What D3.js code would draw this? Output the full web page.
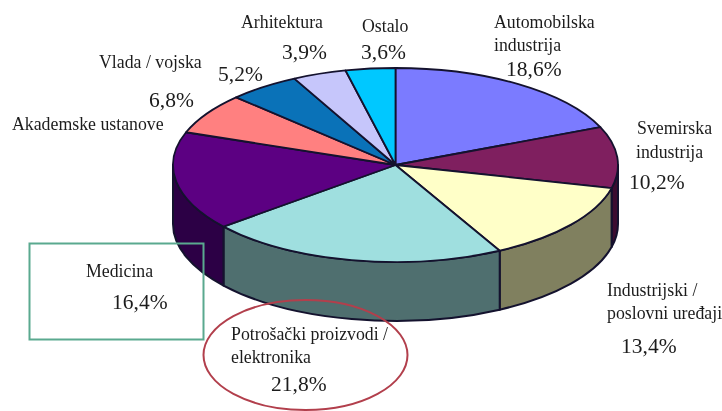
<!DOCTYPE html>
<html>
<head>
<meta charset="utf-8">
<script src="https://cdn.jsdelivr.net/npm/d3@7"></script>
<style>
    html, body { margin: 0; padding: 0; background: #fff; }
    svg { display: block; filter: blur(0.45px); }
    text { font-family: "Liberation Serif", serif; fill: #1c1c1c; }
</style>
</head>
<body>
<div id="chart"></div>
<script>
// clockwise from 12 o'clock
const categories = [
    "Automobilska industrija", "Svemirska industrija", "Industrijski / poslovni uređaji",
    "Potrošački proizvodi / elektronika", "Medicina", "Akademske ustanove",
    "Vlada / vojska", "Arhitektura", "Ostalo"
];
const shares = [18.6, 10.2, 13.4, 21.8, 16.4, 6.8, 5.2, 3.9, 3.6];
const topColors = ["#7b7bff", "#7f1f5f", "#ffffc8", "#9fdfdf", "#5c0082", "#ff8080", "#0a72b8", "#c6c6fb", "#00c8ff"];
const wallColors = ["#3d3d80", "#3c0c30", "#80805f", "#4f6f6f", "#2c0045", "#804040", "#053a5c", "#63637e", "#006480"];

const width = 722, height = 411;
const cx = 395.5, cy = 165, rx = 222.5, ry = 97, depth = 59;
const edge = "#14122e";

const svg = d3.select("#chart").append("svg")
    .attr("width", width)
    .attr("height", height);

const slices = d3.pie().sort(null).value(d => d)(shares)
    .map((s, i) => ({...s, name: categories[i], index: i}));

// position on the rim for a pie angle (0 = top, clockwise)
const rimX = a => cx + rx * Math.sin(a);
const rimY = a => cy - ry * Math.cos(a);

// walls first, only the front half of the cylinder can be seen
const front = [Math.PI / 2, Math.PI * 1.5];
slices.forEach(s => {
    const a0 = Math.max(s.startAngle, front[0]);
    const a1 = Math.min(s.endAngle, front[1]);
    if (a0 >= a1) return;
    svg.append("path")
        .attr("d", `M${rimX(a0)},${rimY(a0)}`
            + `A${rx},${ry} 0 0 1 ${rimX(a1)},${rimY(a1)}`
            + `L${rimX(a1)},${rimY(a1) + depth}`
            + `A${rx},${ry} 0 0 0 ${rimX(a0)},${rimY(a0) + depth}Z`)
        .attr("fill", wallColors[s.index])
        .attr("stroke", edge)
        .attr("stroke-width", 2)
        .attr("stroke-linejoin", "round");
});

// top face, d3.arc squashed into the ellipse
const arc = d3.arc().innerRadius(0).outerRadius(rx);
svg.append("g")
    .attr("transform", `translate(${cx},${cy}) scale(1,${ry / rx})`)
    .selectAll("path")
    .data(slices)
    .join("path")
    .attr("d", arc)
    .attr("fill", (d, i) => topColors[i])
    .attr("stroke", edge)
    .attr("stroke-width", 1.8)
    .attr("stroke-linejoin", "round")
    .attr("vector-effect", "non-scaling-stroke");

// hand drawn highlights on top of the chart
svg.append("rect")
    .attr("x", 29.5).attr("y", 243.5)
    .attr("width", 174).attr("height", 96)
    .attr("fill", "none")
    .attr("stroke", "#5aa98f")
    .attr("stroke-width", 2);

svg.append("ellipse")
    .attr("cx", 305.5).attr("cy", 355)
    .attr("rx", 102).attr("ry", 55)
    .attr("fill", "none")
    .attr("stroke", "#b23f4c")
    .attr("stroke-width", 2);

const pct = i => String(shares[i]).replace(".", ",") + "%";

function label(x, y, str, size) {
    svg.append("text")
        .attr("x", x).attr("y", y)
        .attr("font-size", size)
        .text(str);
}
const nameSize = 17.8, pctSize = 21.5;

label(494, 28, "Automobilska", nameSize);
label(494, 51, "industrija", nameSize);
label(506, 76, pct(0), pctSize);

label(637, 134, "Svemirska", nameSize);
label(636, 158, "industrija", nameSize);
label(629, 189, pct(1), pctSize);

label(607, 296, "Industrijski /", nameSize);
label(607, 319, "poslovni uređaji", nameSize);
label(621, 353, pct(2), pctSize);

label(231, 340, "Potrošački proizvodi /", nameSize);
label(231, 363, "elektronika", nameSize);
label(271, 391, pct(3), pctSize);

label(86, 277, "Medicina", nameSize);
label(112, 309, pct(4), pctSize);

label(12, 130, "Akademske ustanove", nameSize);
label(149, 107, pct(5), pctSize);

label(99, 68, "Vlada / vojska", nameSize);
label(218, 81, pct(6), pctSize);

label(241, 28, "Arhitektura", nameSize);
label(282, 59, pct(7), pctSize);

label(362, 32, "Ostalo", nameSize);
label(361, 59, pct(8), pctSize);
</script>
</body>
</html>
